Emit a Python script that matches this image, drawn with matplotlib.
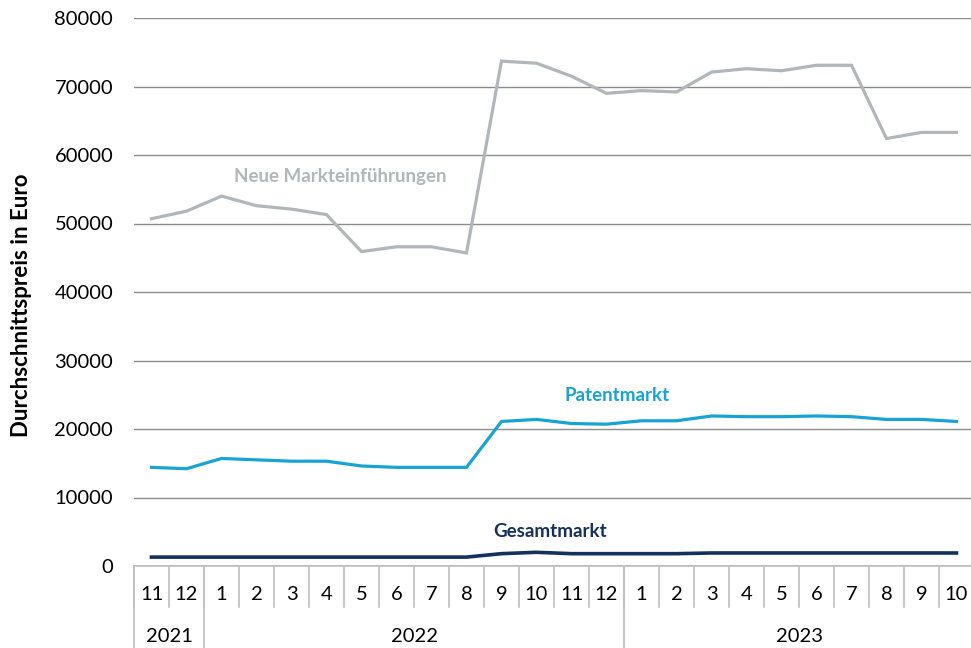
import matplotlib
matplotlib.use("Agg")
import matplotlib.pyplot as plt
import matplotlib.transforms as mtransforms

plt.rcParams['font.family'] = ['Lato', 'DejaVu Sans']

# Daten: Monate 11/2021 bis 10/2023
months = ['11', '12', '1', '2', '3', '4', '5', '6', '7', '8', '9', '10',
          '11', '12', '1', '2', '3', '4', '5', '6', '7', '8', '9', '10']
years = ['2021', '2022', '2023']
year_spans = [2, 12, 10]  # Anzahl Monate je Jahr

neue = [50700, 51800, 54000, 52600, 52100, 51300, 45900, 46600, 46600, 45700,
        73700, 73400, 71500, 69000, 69400, 69200, 72100, 72600, 72300, 73100,
        73100, 62400, 63300, 63300]
patent = [14400, 14200, 15700, 15500, 15300, 15300, 14600, 14400, 14400, 14400,
          21100, 21400, 20800, 20700, 21200, 21200, 21900, 21800, 21800, 21900,
          21800, 21400, 21400, 21100]
gesamt = [1300, 1300, 1300, 1300, 1300, 1300, 1300, 1300, 1300, 1300,
          1800, 2000, 1800, 1800, 1800, 1800, 1900, 1900, 1900, 1900,
          1900, 1900, 1900, 1900]

col_neue = '#B1B6BB'
col_patent = '#18A3D2'
col_gesamt = '#14305C'
col_sep = '#BFBFBF'

fig = plt.figure(figsize=(9.71, 6.48), dpi=100)
ax = fig.add_axes([134 / 971, 1 - 566 / 648, 840 / 971, 548 / 648])

x = list(range(len(months)))
ax.plot(x, neue, color=col_neue, lw=2.3, solid_joinstyle='miter', zorder=3)
ax.plot(x, patent, color=col_patent, lw=2.3, solid_joinstyle='miter', zorder=3)
ax.plot(x, gesamt, color=col_gesamt, lw=2.6, solid_joinstyle='miter', zorder=3)

ax.set_xlim(-0.5, len(months) - 0.5)
ax.set_ylim(0, 80000)
ax.set_yticks(range(0, 80001, 10000))
ax.tick_params(axis='y', length=0, pad=15, labelsize=14.5)
ax.set_xticks([])
ax.grid(axis='y', color='#8C8C8C', lw=1, zorder=0)
for s in ['top', 'right', 'left']:
    ax.spines[s].set_visible(False)
ax.spines['bottom'].set_color(col_sep)
ax.spines['bottom'].set_linewidth(1.2)
ax.spines['bottom'].set_zorder(1)

fig.text(22 / 971, 1 - 305 / 648, 'Durchschnittspreis in Euro', rotation=90,
         fontsize=16, fontweight='bold', ha='center', va='center')

# Beschriftung der Linien
ax.text(5.4, 56900, 'Neue Markteinführungen', color=col_neue, fontsize=13.5,
        fontweight='bold', ha='center', va='center')
ax.text(13.3, 24900, 'Patentmarkt', color=col_patent, fontsize=13.5,
        fontweight='bold', ha='center', va='center')
ax.text(11.4, 5100, 'Gesamtmarkt', color=col_gesamt, fontsize=13.5,
        fontweight='bold', ha='center', va='center')

# Zweistufige x-Achse (Monat / Jahr)
trans = mtransforms.blended_transform_factory(ax.transData, ax.transAxes)
px = 1 / 548.0
month_bottom = -(607 - 566) * px
year_bottom = -(648 - 566) * px - 0.01
for i, m in enumerate(months):
    ax.text(i, -(595 - 566) * px, m, transform=trans, ha='center', va='center',
            fontsize=14.5, clip_on=False)
for i in range(len(months) + 1):
    ax.plot([i - 0.5, i - 0.5], [0, month_bottom], transform=trans,
            color=col_sep, lw=1.2, clip_on=False)

start = 0
for y, n in zip(years, year_spans):
    ax.text(start + n / 2 - 0.5, -(636 - 566) * px, y, transform=trans,
            ha='center', va='center', fontsize=14.5, clip_on=False)
    ax.plot([start - 0.5, start - 0.5], [0, year_bottom], transform=trans,
            color=col_sep, lw=1.2, clip_on=False)
    start += n
ax.plot([start - 0.5, start - 0.5], [0, year_bottom], transform=trans,
        color=col_sep, lw=1.2, clip_on=False)

fig.savefig('out.png', dpi=100)
